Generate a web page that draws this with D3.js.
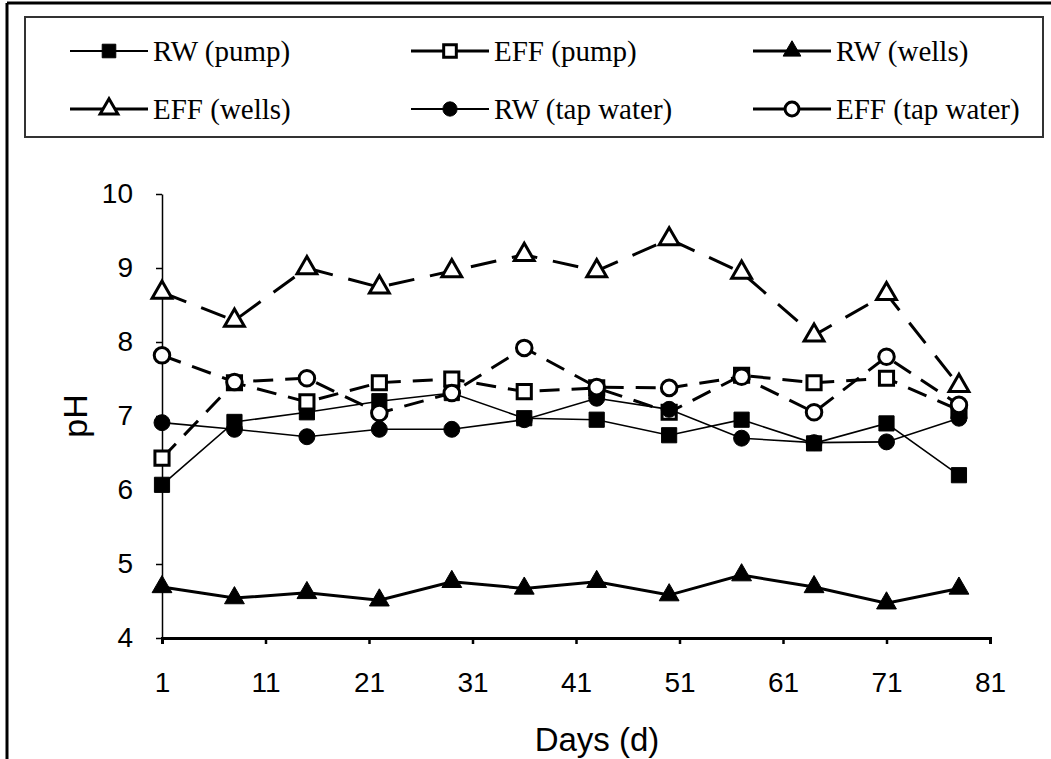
<!DOCTYPE html>
<html>
<head>
<meta charset="utf-8">
<script src="https://cdn.jsdelivr.net/npm/d3@7"></script>
<style>
  body { margin: 0; background: #fff; }
  svg { display: block; }
</style>
</head>
<body>
<div id="chart"></div>
<script>
// sampling days and pH readings
const days = [1, 8, 15, 22, 29, 36, 43, 50, 57, 64, 71, 78];
const rwPump = [6.07, 6.92, 7.05, 7.2, 7.31, 6.97, 6.95, 6.74, 6.95, 6.63, 6.9, 6.2];
const effPump = [6.43, 7.45, 7.19, 7.45, 7.5, 7.33, 7.38, 7.05, 7.55, 7.45, 7.51, 7.08];
const rwWells = [4.69, 4.54, 4.61, 4.51, 4.76, 4.67, 4.76, 4.58, 4.85, 4.69, 4.47, 4.67];
const effWells = [8.67, 8.29, 9.0, 8.74, 8.96, 9.18, 8.96, 9.39, 8.94, 8.09, 8.65, 7.41];
const rwTap = [6.91, 6.82, 6.72, 6.82, 6.82, 6.95, 7.24, 7.09, 6.7, 6.64, 6.65, 6.97];
const effTap = [7.82, 7.46, 7.51, 7.04, 7.31, 7.92, 7.39, 7.38, 7.53, 7.05, 7.8, 7.15];

const xTicks = [1, 11, 21, 31, 41, 51, 61, 71, 81];
const yTicks = [4, 5, 6, 7, 8, 9, 10];

const seriesNames = ["RW (pump)", "EFF (pump)", "RW (wells)", "EFF (wells)", "RW (tap water)", "EFF (tap water)"];

const width = 1051;
const height = 759;

const series = [
  { name: seriesNames[0], values: rwPump, symbol: d3.symbolSquare, size: 230, filled: true, width: 1.6, dash: null },
  { name: seriesNames[1], values: effPump, symbol: d3.symbolSquare, size: 200, filled: false, width: 3, dash: "20,12" },
  { name: seriesNames[2], values: rwWells, symbol: d3.symbolTriangle, size: 170, filled: true, width: 3, dash: null },
  { name: seriesNames[3], values: effWells, symbol: d3.symbolTriangle, size: 170, filled: false, width: 3, dash: "26,16" },
  { name: seriesNames[4], values: rwTap, symbol: d3.symbolCircle, size: 200, filled: true, width: 1.6, dash: null },
  { name: seriesNames[5], values: effTap, symbol: d3.symbolCircle, size: 190, filled: false, width: 3, dash: "20,12" }
];

const svg = d3
  .select("#chart")
  .append("svg")
  .attr("width", width)
  .attr("height", height);

// outer frame (top + left edges visible in the crop)
svg.append("line").attr("x1", 7).attr("y1", 3).attr("x2", width).attr("y2", 3)
  .attr("stroke", "#000").attr("stroke-width", 3);
svg.append("line").attr("x1", 7).attr("y1", 3).attr("x2", 7).attr("y2", height)
  .attr("stroke", "#000").attr("stroke-width", 3);

const x = d3.scaleLinear().domain([1, 81]).range([162, 990]);
const y = d3.scaleLinear().domain([4, 10]).range([638, 194]);

//////////////////////////////// axes ////////////////////////////////

const yAxis = svg
  .append("g")
  .attr("transform", "translate(" + x(1) + ",0)")
  .call(d3.axisLeft(y).tickValues(yTicks).tickFormat(d3.format("d")).tickSize(6).tickPadding(23).tickSizeOuter(0));
yAxis.select(".domain").attr("stroke-width", 1.5);
yAxis.selectAll("line").attr("stroke-width", 1.5);
yAxis.selectAll("text")
  .attr("font-family", "Liberation Sans, Arial, sans-serif")
  .attr("font-size", 28)
  .attr("fill", "#000");

const xAxis = svg
  .append("g")
  .attr("transform", "translate(0," + y(4) + ")")
  .call(d3.axisBottom(x).tickValues(xTicks).tickSize(6).tickPadding(28).tickSizeOuter(6));
xAxis.select(".domain").attr("stroke-width", 3);
xAxis.selectAll("line").attr("stroke-width", 2.5);
xAxis.selectAll("text")
  .attr("font-family", "Liberation Sans, Arial, sans-serif")
  .attr("font-size", 28)
  .attr("fill", "#000");

svg.append("text")
  .attr("x", 597)
  .attr("y", 751)
  .attr("text-anchor", "middle")
  .attr("font-family", "Liberation Sans, Arial, sans-serif")
  .attr("font-size", 33)
  .text("Days (d)");

svg.append("text")
  .attr("transform", "translate(87,416) rotate(-90)")
  .attr("text-anchor", "middle")
  .attr("font-family", "Liberation Sans, Arial, sans-serif")
  .attr("font-size", 34)
  .text("pH");

//////////////////////////////// series ////////////////////////////////

const line = d3
  .line()
  .x((d) => x(d[0]))
  .y((d) => y(d[1]));

series.forEach(function (s) {
  const pts = days.map((d, i) => [d, s.values[i]]);
  svg.append("path")
    .datum(pts)
    .attr("fill", "none")
    .attr("stroke", "#000")
    .attr("stroke-width", s.width)
    .attr("stroke-dasharray", s.dash)
    .attr("d", line);
});

series.forEach(function (s) {
  const pts = days.map((d, i) => [d, s.values[i]]);
  svg.append("g")
    .selectAll("path")
    .data(pts)
    .enter()
    .append("path")
    .attr("transform", (d) => "translate(" + x(d[0]) + "," + y(d[1]) + ")")
    .attr("d", d3.symbol().type(s.symbol).size(s.size))
    .attr("fill", s.filled ? "#000" : "#fff")
    .attr("stroke", "#000")
    .attr("stroke-width", s.filled ? 1 : 3);
});

//////////////////////////////// legend ////////////////////////////////

svg.append("rect")
  .attr("x", 25)
  .attr("y", 17)
  .attr("width", 1018)
  .attr("height", 120)
  .attr("fill", "none")
  .attr("stroke", "#333")
  .attr("stroke-width", 2);

const colX = [70, 411, 753];
const rowY = [51, 109];

series.forEach(function (s, i) {
  const lx = colX[i % 3];
  const ly = rowY[Math.floor(i / 3)];
  const g = svg.append("g").attr("transform", "translate(" + lx + "," + ly + ")");
  g.append("line")
    .attr("x1", 0)
    .attr("x2", 78)
    .attr("stroke", "#000")
    .attr("stroke-width", s.width === 3 ? 3 : 2);
  g.append("path")
    .attr("transform", "translate(39,0)")
    .attr("d", d3.symbol().type(s.symbol).size(s.size * 0.8))
    .attr("fill", s.filled ? "#000" : "#fff")
    .attr("stroke", "#000")
    .attr("stroke-width", s.filled ? 1 : 3);
  g.append("text")
    .attr("x", 83)
    .attr("y", 10)
    .attr("font-family", "Liberation Serif, Times New Roman, serif")
    .attr("font-size", 29)
    .text(s.name);
});
</script>
</body>
</html>
